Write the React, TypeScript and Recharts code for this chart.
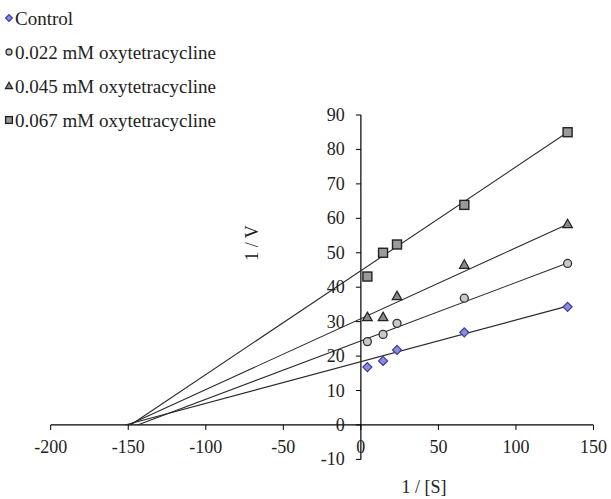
import React from 'react';
import { ComposedChart, Scatter, Line, XAxis, YAxis, ReferenceLine, ReferenceDot } from 'recharts';

// ---- data ----
const inverseSubstrate = [4.2, 14.3, 23.3, 66.7, 133.3];
const controlV = [16.8, 18.6, 21.8, 26.9, 34.3];
const oxy022V = [24.2, 26.3, 29.5, 36.8, 46.9];
const oxy045V = [31.3, 31.3, 37.4, 46.5, 58.3];
const oxy067V = [43.1, 50.0, 52.4, 63.9, 85.0];

// trend line end points (x, y)
const controlTrendX = [-152, 133.3];
const controlTrendY = [0, 34.5];
const oxy022TrendX = [-144, 133.3];
const oxy022TrendY = [0, 47.0];
const oxy045TrendX = [-150, 133.3];
const oxy045TrendY = [0, 58.3];
const oxy067TrendX = [-148.5, 133.3];
const oxy067TrendY = [0, 85.0];

const seriesNames = ['Control', '0.022 mM oxytetracycline', '0.045 mM oxytetracycline', '0.067 mM oxytetracycline'];
const xTicks = [-200, -150, -100, -50, 0, 50, 100, 150];
const yTicks = [-10, 0, 10, 20, 30, 40, 50, 60, 70, 80, 90];
const xTitle = '1 / [S]';
const yTitle = '1 / V';

// ---- layout / style ----
const W = 611;
const H = 499;
const FONT = 'Liberation Serif';
const TEXT = '#222';
const FS = 18;
const LEG_FS = 19;

type Kind = 'diamond' | 'circle' | 'triangle' | 'square';
const kinds: Kind[] = ['diamond', 'circle', 'triangle', 'square'];

function Marker({ kind, cx, cy, s = 1 }: { kind: Kind; cx: number; cy: number; s?: number }) {
  if (cx == null || cy == null) return null;
  if (kind === 'diamond') {
    const r = 4.5 * s;
    return (
      <polygon
        points={`${cx},${cy - r} ${cx + r},${cy} ${cx},${cy + r} ${cx - r},${cy}`}
        fill="#8c8cd0"
        stroke="#3838a8"
        strokeWidth={1.2}
      />
    );
  }
  if (kind === 'circle') {
    return <circle cx={cx} cy={cy} r={4 * s} fill="#c8c8c8" stroke="#333" strokeWidth={1.3} />;
  }
  if (kind === 'triangle') {
    return (
      <polygon
        points={`${cx},${cy - 5 * s} ${cx + 4.8 * s},${cy + 3.5 * s} ${cx - 4.8 * s},${cy + 3.5 * s}`}
        fill="#8a8a8a"
        stroke="#222"
        strokeWidth={1.2}
      />
    );
  }
  const h = 4.5 * s;
  return <rect x={cx - h} y={cy - h} width={2 * h} height={2 * h} fill="#9a9a9a" stroke="#222" strokeWidth={1.4} />;
}

const toPoints = (xs: number[], ys: number[]) => xs.map((x, i) => ({ x, y: ys[i] }));

const pointSets = [
  toPoints(inverseSubstrate, controlV),
  toPoints(inverseSubstrate, oxy022V),
  toPoints(inverseSubstrate, oxy045V),
  toPoints(inverseSubstrate, oxy067V),
];
const trendSets = [
  toPoints(controlTrendX, controlTrendY),
  toPoints(oxy022TrendX, oxy022TrendY),
  toPoints(oxy045TrendX, oxy045TrendY),
  toPoints(oxy067TrendX, oxy067TrendY),
];

const XTick = (v: number) => (p: any) => (
  <g>
    <line x1={p.cx} y1={p.cy} x2={p.cx} y2={p.cy + 5} stroke="#000" strokeWidth={1} />
    <text x={p.cx} y={p.cy + 28} textAnchor="middle" fontFamily={FONT} fontSize={FS} fill={TEXT}>
      {v}
    </text>
  </g>
);

const YTick = (v: number) => (p: any) => (
  <g>
    <line x1={p.cx} y1={p.cy} x2={p.cx - 5} y2={p.cy} stroke="#000" strokeWidth={1} />
    <text x={p.cx - 16} y={p.cy + 6} textAnchor="end" fontFamily={FONT} fontSize={FS} fill={TEXT}>
      {v}
    </text>
  </g>
);

export default function App() {
  return (
    <div style={{ position: 'relative', width: W, height: H, overflow: 'hidden', background: '#fff' }}>
      <style>{`body{margin:0;overflow:hidden;}`}</style>
      <ComposedChart width={W} height={H} margin={{ top: 115, right: 17.5, bottom: 39.6, left: 50.7 }}>
        <XAxis dataKey="x" type="number" domain={[-200, 150]} ticks={xTicks} hide allowDataOverflow />
        <YAxis dataKey="y" type="number" domain={[-10, 90]} ticks={yTicks} hide allowDataOverflow />
        <ReferenceLine y={0} stroke="#000" strokeWidth={1.2} />
        <ReferenceLine x={0} stroke="#000" strokeWidth={1.2} />
        {xTicks.map((v) => (
          <ReferenceDot key={'xt' + v} x={v} y={0} r={0} shape={XTick(v)} />
        ))}
        {yTicks.map((v) => (
          <ReferenceDot key={'yt' + v} x={0} y={v} r={0} shape={YTick(v)} />
        ))}
        {trendSets.map((d, i) => (
          <Line
            key={'t' + i}
            data={d}
            dataKey="y"
            type="linear"
            stroke="#2a2a2a"
            strokeWidth={1.1}
            dot={false}
            activeDot={false}
            isAnimationActive={false}
          />
        ))}
        {pointSets.map((d, i) => (
          <Scatter
            key={'s' + i}
            name={seriesNames[i]}
            data={d}
            dataKey="y"
            isAnimationActive={false}
            shape={(p: any) => <Marker kind={kinds[i]} cx={p.cx} cy={p.cy} />}
          />
        ))}
      </ComposedChart>
      <svg width={W} height={H} style={{ position: 'absolute', left: 0, top: 0, pointerEvents: 'none' }}>
        {seriesNames.map((n, i) => (
          <g key={n}>
            <Marker kind={kinds[i]} cx={9} cy={18 + i * 34} s={0.75} />
            <text x={15} y={18 + i * 34 + 6.5} fontFamily={FONT} fontSize={LEG_FS} fill={TEXT}>
              {n}
            </text>
          </g>
        ))}
        <text x={424} y={493} textAnchor="middle" fontFamily={FONT} fontSize={FS} fill={TEXT}>
          {xTitle}
        </text>
        <text
          x={252}
          y={243}
          textAnchor="middle"
          dominantBaseline="central"
          transform="rotate(-90 252 243)"
          fontFamily={FONT}
          fontSize={FS}
          fill={TEXT}
        >
          {yTitle}
        </text>
      </svg>
    </div>
  );
}
